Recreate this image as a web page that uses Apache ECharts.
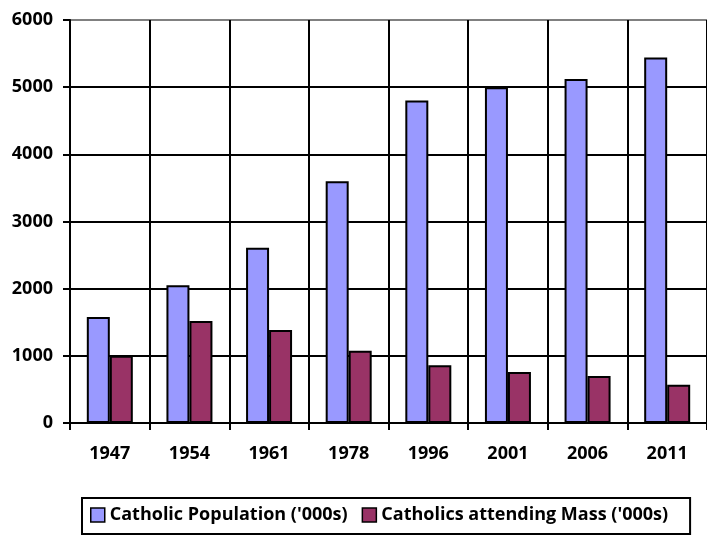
<!DOCTYPE html>
<html><head><meta charset="utf-8">
<script src="https://cdn.jsdelivr.net/npm/echarts@6/dist/echarts.min.js"></script>
<style>html,body{margin:0;padding:0;background:#fff}#c{width:707px;height:537px}</style>
</head><body><div id="c"></div>
<script>
const categories = ['1947','1954','1961','1978','1996','2001','2006','2011'];
const catholicPopulation = [1580, 2050, 2610, 3600, 4800, 5000, 5120, 5440];
const massAttendance = [1000, 1520, 1385, 1075, 860, 760, 700, 570];
const yTicks = [0, 1000, 2000, 3000, 4000, 5000, 6000];

const font = '"Open Sans", sans-serif';
const chart = echarts.init(document.getElementById('c'), null, {renderer: 'canvas'});
chart.setOption({
  animation: false,
  backgroundColor: '#fff',
  grid: {left: 70, top: 20, width: 640, bottom: 114, containLabel: false},
  legend: {
    left: 82, top: 498,
    padding: [8, 22, 10, 8],
    borderColor: '#000', borderWidth: 2,
    itemWidth: 14, itemHeight: 14, itemGap: 14,
    icon: 'rect',
    textStyle: {fontFamily: font, fontWeight: 'bold', fontSize: 18, color: '#000'},
    itemStyle: {borderColor: '#000', borderWidth: 1.5},
    data: ["Catholic Population ('000s)", "Catholics attending Mass ('000s)"]
  },
  xAxis: {
    type: 'category', data: categories, boundaryGap: true,
    axisLine: {lineStyle: {color: '#000', width: 2}},
    axisTick: {show: true, length: 7, lineStyle: {color: '#000', width: 2}},
    axisLabel: {fontFamily: font, fontWeight: 'bold', fontSize: 18, color: '#000', margin: 22},
    splitLine: {show: true, lineStyle: {color: '#000', width: 2}}
  },
  yAxis: {
    type: 'value', min: yTicks[0], max: yTicks[yTicks.length - 1], interval: 1000,
    axisLine: {show: true, lineStyle: {color: '#000', width: 2}},
    axisTick: {show: true, length: 7, lineStyle: {color: '#000', width: 2}},
    axisLabel: {fontFamily: font, fontWeight: 'bold', fontSize: 18, color: '#000', margin: 17,
                formatter: v => String(v)},
    splitLine: {show: true, lineStyle: {color: ['#000','#000','#000','#000','#000','#000','#808080'], width: 2}}
  },
  series: [
    {name: "Catholic Population ('000s)", type: 'bar', data: catholicPopulation, barWidth: 23, barGap: '0%',
     itemStyle: {color: '#9999FF', borderColor: '#000', borderWidth: 2}},
    {name: "Catholics attending Mass ('000s)", type: 'bar', data: massAttendance, barWidth: 23, barGap: '0%',
     itemStyle: {color: '#993366', borderColor: '#000', borderWidth: 2}}
  ]
});
</script></body></html>
